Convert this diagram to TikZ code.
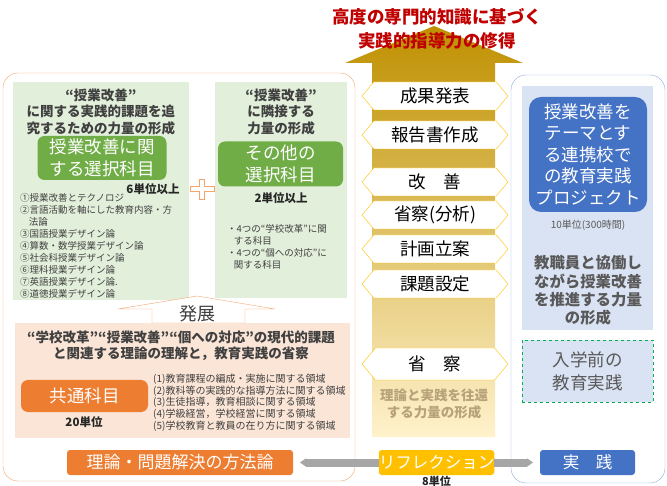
\documentclass[tikz,border=0pt]{standalone}
\usepackage{fontspec}
\setmainfont{Noto Sans CJK JP}
\usetikzlibrary{positioning,arrows.meta,shapes.symbols}

\definecolor{panegreen}{HTML}{E2EFDA}
\definecolor{boxgreen}{HTML}{70AD47}
\definecolor{panepeach}{HTML}{FBE5D6}
\definecolor{boxorange}{HTML}{ED7D31}
\definecolor{frameorange}{HTML}{F4A46C}
\definecolor{boxblue}{HTML}{4472C4}
\definecolor{paneblue}{HTML}{DAE3F3}
\definecolor{frameblue}{HTML}{8FAADC}
\definecolor{boxyellow}{HTML}{FFC000}
\definecolor{arrgray}{HTML}{A6A6A6}
\definecolor{txtgray}{HTML}{404040}
\definecolor{txtgray2}{HTML}{595959}
\definecolor{titlered}{HTML}{C00000}
\definecolor{goldtop}{HTML}{BF9000}
\definecolor{goldmid}{HTML}{FFD34D}
\definecolor{goldbot}{HTML}{FFF2CC}
\definecolor{loopgold}{HTML}{B8A27A}
\definecolor{dashgreen}{HTML}{00B050}

\begin{document}
\begin{tikzpicture}[x=1pt,y=-1pt,
  head/.style={align=center,text=txtgray,font=\bfseries\fontsize{13.5}{16.5}\selectfont},
  subj/.style={rounded corners=7pt,fill=#1,text=white,align=center,inner sep=2pt,font=\fontsize{17.5}{22}\selectfont},
  items/.style={anchor=north west,align=left,inner sep=0pt,text=txtgray,font=\fontsize{9.5}{12}\selectfont},
  units/.style={inner sep=0pt,text=black!85,font=\bfseries\fontsize{11.5}{13}\selectfont},
  stagebox/.style={signal,signal to=east and west,signal pointer angle=100,draw=boxyellow,fill=white,
    minimum width=146pt,minimum height=28pt,inner sep=1pt,font=\fontsize{17.5}{20}\selectfont},
  tag/.style={rounded corners=3pt,fill=#1,text=white,minimum height=25pt,inner sep=0pt,font=\fontsize{16.5}{18}\selectfont},
  link/.style={line width=8pt,draw=arrgray,-{Triangle[length=6pt,width=8pt]}}
]
\useasboundingbox (0,0) rectangle (667,486);

% frames
\draw[frameorange,rounded corners=15pt] (3,73) rectangle (355,481);
\draw[frameblue,rounded corners=15pt] (511,75) rectangle (665,483);

% gold arrow
\shade[top color=goldtop,middle color=goldmid,bottom color=goldbot]
  (345,63) -- (434,26) -- (523,63) -- (495,63) -- (495,437) -- (372,437) -- (372,63) -- cycle;
\node[text=titlered,align=center,font=\bfseries\fontsize{17.5}{24}\selectfont] (ttl) at (437,29)
  {高度の専門的知識に基づく\\実践的指導力の修得};

\node[stagebox] (st1) at (435,96) {成果発表};
\node[stagebox] (st2) at (435,135) {報告書作成};
\node[stagebox] (st3) at (435,182) {改\hspace{1em}善};
\node[stagebox] (st4) at (435,215) {省察(分析)};
\node[stagebox] (st5) at (435,249) {計画立案};
\node[stagebox] (st6) at (435,284) {課題設定};
\node[stagebox,minimum height=32pt] (st7) at (435,364) {省\hspace{1em}察};
\node[text=loopgold,align=center,font=\bfseries\fontsize{13.5}{17}\selectfont] (loop) at (434,403.5)
  {理論と実践を往還\\する力量の形成};

% selective subjects
\fill[panegreen] (13,82) rectangle (189,300);
\fill[panegreen] (215,82) rectangle (347,298);
\node[head] (h1) at (101,111.5) {“授業改善”\\に関する実践的課題を追\\究するための力量の形成};
\node[subj=boxgreen,minimum width=129pt,minimum height=44pt] (s1) at (102,158) {授業改善に関\\する選択科目};
\node[units] (u1) at (153,189) {6単位以上};
\node[items] (l1) at (20,193) {①授業改善とテクノロジ\\②言語活動を軸にした教育内容・方\\\hspace{0.9em}法論\\③国語授業デザイン論\\④算数・数学授業デザイン論\\⑤社会科授業デザイン論\\⑥理科授業デザイン論\\⑦英語授業デザイン論.\\⑧道徳授業デザイン論};
\draw[frameorange,fill=white] (199.5,179) -- (204.5,179) -- (204.5,186.5) -- (214,186.5) -- (214,191.5) -- (204.5,191.5)
  -- (204.5,199) -- (199.5,199) -- (199.5,191.5) -- (190,191.5) -- (190,186.5) -- (199.5,186.5) -- cycle;
\node[head] (h2) at (281,111.5) {“授業改善”\\に隣接する\\力量の形成};
\node[subj=boxgreen,minimum width=125pt,minimum height=45pt] (s2) at (280.5,164) {その他の\\選択科目};
\node[units] (u2) at (281,198) {2単位以上};
\node[items] (l2) at (227,224) {・4つの“学校改革”に関\\\hspace{0.7em}する科目\\・4つの“個への対応”に\\\hspace{0.7em}関する科目};

% common subjects
\draw[frameorange,fill=white] (118,309) -- (197,296) -- (275,309) -- (245,309) -- (245,323) -- (152,323) -- (152,309) -- cycle;
\node[text=txtgray,font=\fontsize{18}{20}\selectfont] (dev) at (197,314) {発展};
\fill[panepeach] (15,323) rectangle (350,438);
\node[head,font=\bfseries\fontsize{13.5}{15.5}\selectfont] (ph) at (181,345.5) {“学校改革”“授業改善”“個への対応”の現代的課題\\と関連する理論の理解と，教育実践の省察};
\node[subj=boxorange,minimum width=127pt,minimum height=32pt] (c1) at (84.5,396) {共通科目};
\node[units] (u3) at (84,422) {20単位};
\node[items,font=\fontsize{10}{11.6}\selectfont] (l3) at (153,374) {(1)教育課程の編成・実施に関する領域\\(2)教科等の実践的な指導方法に関する領域\\(3)生徒指導，教育相談に関する領域\\(4)学級経営，学校経営に関する領域\\(5)学校教育と教員の在り方に関する領域};

% practice
\fill[paneblue] (522,86) rectangle (653,330);
\node[subj=boxblue,rounded corners=12pt,minimum width=118pt,minimum height=115pt,font=\fontsize{17.5}{21.5}\selectfont] (pj) at (588,154.5)
  {授業改善を\\テーマとす\\る連携校で\\の教育実践\\プロジェクト};
\node[text=txtgray2,font=\fontsize{10}{12}\selectfont] (u5) at (588,225) {10単位(300時間)};
\node[text=txtgray2,align=center,font=\bfseries\fontsize{15.4}{18.4}\selectfont] (pw) at (588,290.5)
  {教職員と協働し\\ながら授業改善\\を推進する力量\\の形成};
\node[draw=dashgreen,dashed,fill=paneblue,minimum width=131pt,minimum height=62pt,text=txtgray2,align=center,
  font=\fontsize{17.5}{23}\selectfont] (pre) at (587.5,371) {入学前の\\教育実践};

% bottom bar
\node[tag=boxorange,minimum width=226pt,font=\fontsize{17}{18}\selectfont] (m1) at (180,462.5) {理論・問題解決の方法論};
\node[tag=boxyellow,minimum width=109pt] (r1) at (436.5,462.5) {リフレクション};
\node[tag=boxblue,minimum width=95pt] (p1) at (587.5,462.5) {実\hspace{1em}践};
\node[units,font=\bfseries\fontsize{11}{12}\selectfont] (u4) at (436.5,481) {8単位};
\coordinate (le) at (300,462.5);
\coordinate (re) at (533,462.5);
\draw[link] (r1.west) -- (le);
\draw[link] (r1.east) -- (re);
\end{tikzpicture}
\end{document}
